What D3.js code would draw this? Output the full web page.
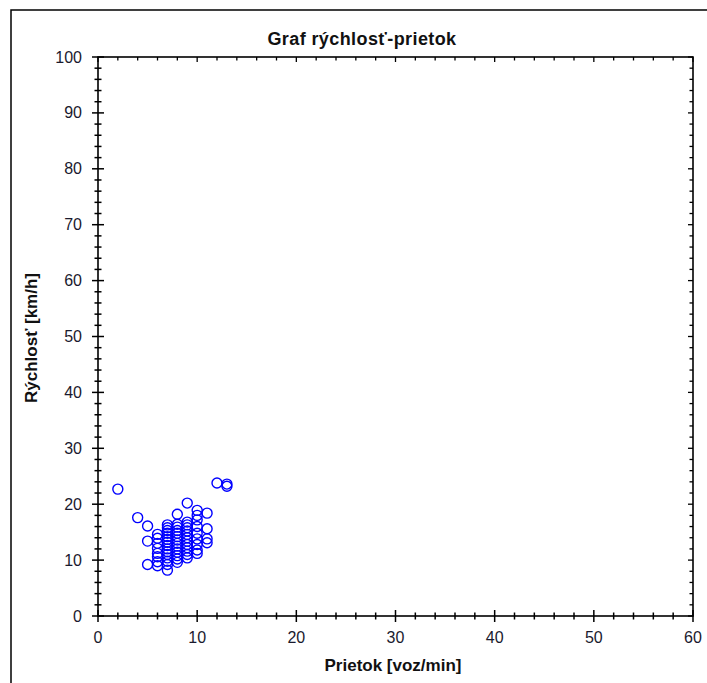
<!DOCTYPE html>
<html>
<head>
<meta charset="utf-8">
<script src="https://cdn.jsdelivr.net/npm/d3@7"></script>
<style>
  html, body { margin: 0; padding: 0; background: #fff; }
  svg { display: block; font-family: "Liberation Sans", Arial, sans-serif; }
</style>
</head>
<body>
<svg id="chart" width="707" height="683"></svg>
<script>
// ---- data ----
const title = "Graf rýchlosť-prietok";
const xLabel = "Prietok [voz/min]";
const yLabel = "Rýchlosť [km/h]";
const xTicks = [0, 10, 20, 30, 40, 50, 60];
const yTicks = [0, 10, 20, 30, 40, 50, 60, 70, 80, 90, 100];
// flow (veh/min)
const flow = [
  2, 4, 5, 5, 5,
  6, 6, 6, 6, 6, 6, 6, 6,
  7, 7, 7, 7, 7, 7, 7, 7, 7, 7, 7, 7, 7, 7, 7,
  8, 8, 8, 8, 8, 8, 8, 8, 8, 8, 8, 8, 8, 8,
  9, 9, 9, 9, 9, 9, 9, 9, 9, 9, 9, 9, 9,
  10, 10, 10, 10, 10, 10, 10, 10, 10,
  11, 11, 11, 11,
  12, 13, 13
];
// speed (km/h)
const speed = [
  22.7, 17.6, 16.1, 13.4, 9.2,
  14.6, 13.9, 13.0, 12.1, 11.2, 10.6, 9.7, 9.0,
  16.3, 15.8, 15.3, 14.8, 14.2, 13.7, 13.2, 12.6, 12.0, 11.5, 11.0, 10.4, 9.8, 9.2, 8.2,
  18.2, 16.4, 15.9, 15.3, 14.8, 14.2, 13.6, 13.0, 12.5, 12.0, 11.4, 10.8, 10.2, 9.6,
  20.2, 16.8, 16.3, 15.8, 15.2, 14.6, 14.0, 13.4, 12.8, 12.2, 11.6, 11.0, 10.4,
  18.9, 18.0, 17.2, 16.0, 14.8, 13.8, 12.8, 11.8, 11.2,
  18.4, 15.6, 13.8, 13.1,
  23.8, 23.6, 23.2
];

// ---- layout ----
const svg = d3.select("#chart");
const pL = 98, pR = 693, pT = 57, pB = 616;
const x = d3.scaleLinear().domain([0, 60]).range([pL, pR]);
const y = d3.scaleLinear().domain([0, 100]).range([pB, pT]);
const xMinor = d3.range(0, 61, 2);
const yMinor = d3.range(0, 101, 2);

// outer frame
svg.append("rect").attr("x", 11).attr("y", 10).attr("width", 720).attr("height", 700)
  .attr("fill", "none").attr("stroke", "#000").attr("stroke-width", 1.5);

// title
svg.append("text").attr("x", 362).attr("y", 45).attr("text-anchor", "middle")
  .attr("font-size", 18).attr("font-weight", "bold").attr("letter-spacing", 0.4)
  .attr("fill", "#111").text(title);

const g = svg.append("g");
// plot box
g.append("rect").attr("x", pL).attr("y", pT).attr("width", pR - pL).attr("height", pB - pT)
  .attr("fill", "none").attr("stroke", "#000").attr("stroke-width", 1.6);

// bottom ticks (cross axis)
g.selectAll(".bt").data(xMinor).join("line")
  .attr("x1", d => x(d)).attr("x2", d => x(d))
  .attr("y1", d => pB - (d % 10 === 0 ? 6 : 3.5))
  .attr("y2", d => pB + (d % 10 === 0 ? 6 : 3.5))
  .attr("stroke", "#000").attr("stroke-width", 1.5);
// top ticks (inward)
g.selectAll(".tt").data(xMinor).join("line")
  .attr("x1", d => x(d)).attr("x2", d => x(d))
  .attr("y1", pT).attr("y2", d => pT + (d % 10 === 0 ? 5 : 3.5))
  .attr("stroke", "#000").attr("stroke-width", 1.3);
// left ticks (cross axis)
g.selectAll(".lt").data(yMinor).join("line")
  .attr("y1", d => y(d)).attr("y2", d => y(d))
  .attr("x1", d => pL - (d % 10 === 0 ? 6 : 3.5))
  .attr("x2", d => pL + (d % 10 === 0 ? 6 : 3.5))
  .attr("stroke", "#000").attr("stroke-width", 1.5);
// right ticks (inward)
g.selectAll(".rt").data(yMinor).join("line")
  .attr("y1", d => y(d)).attr("y2", d => y(d))
  .attr("x1", pR).attr("x2", d => pR - (d % 10 === 0 ? 5 : 3.5))
  .attr("stroke", "#000").attr("stroke-width", 1.3);

// tick labels
g.selectAll(".xl").data(xTicks).join("text")
  .attr("x", d => x(d)).attr("y", 643).attr("text-anchor", "middle")
  .attr("font-size", 16).attr("fill", "#1a1a2e").text(d => d);
g.selectAll(".yl").data(yTicks).join("text")
  .attr("x", 82).attr("y", d => y(d) + 5.5).attr("text-anchor", "end")
  .attr("font-size", 16).attr("fill", "#1a1a2e").text(d => d);

// axis titles
svg.append("text").attr("x", 393).attr("y", 671).attr("text-anchor", "middle")
  .attr("font-size", 17).attr("font-weight", "bold").attr("fill", "#111").text(xLabel);
svg.append("text").attr("transform", "translate(37,338) rotate(-90)").attr("text-anchor", "middle")
  .attr("font-size", 17).attr("font-weight", "bold").attr("fill", "#111").text(yLabel);

// points
const pts = flow.map((f, i) => ({ f, s: speed[i] }));
g.selectAll(".pt").data(pts).join("circle")
  .attr("cx", d => x(d.f)).attr("cy", d => y(d.s)).attr("r", 5)
  .attr("fill", "none").attr("stroke", "#0000ff").attr("stroke-width", 1.4);
</script>
</body>
</html>
